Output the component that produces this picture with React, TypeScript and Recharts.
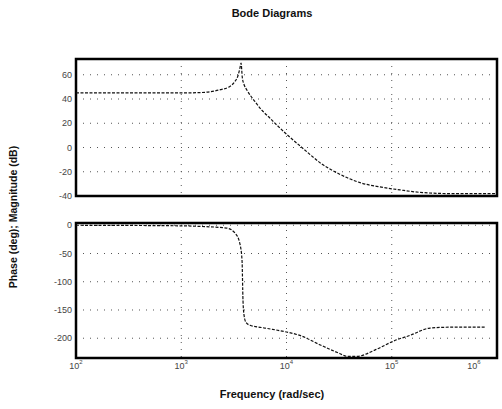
import React from 'react';
import { LineChart, Line, XAxis, YAxis, CartesianGrid, ReferenceArea } from 'recharts';

const freqTicks = [100, 1000, 10000, 100000, 1000000];
const magTicks = [-40, -20, 0, 20, 40, 60];
const phaseTicks = [-200, -150, -100, -50, 0];

const magFreq = [100, 1000, 1500, 1900, 2300, 2900, 3200, 3450, 3600, 3700, 3800, 3950, 4200, 5000, 5800, 7000, 8100, 10000, 14000, 22000, 32000, 50000, 77000, 120000, 185000, 360000, 1000000];
const magValues = [45, 45, 45.3, 46, 47.5, 50.4, 54, 59, 65, 69.6, 58, 52, 47.5, 38, 31, 24, 18.5, 11, 0, -14, -22, -29, -32.5, -35, -37, -38, -38];

const phaseFreq = [100, 1000, 1500, 2700, 3250, 3600, 3780, 3860, 3950, 4120, 4500, 6250, 10000, 13400, 21000, 32000, 37600, 46800, 69000, 107000, 149000, 231000, 357000, 770000];
const phaseValues = [0, -1, -2, -5, -14, -32, -62, -133, -159, -172, -177, -182, -189, -195, -212, -227, -232, -232, -221, -204, -195, -182, -180.5, -180.5];

const magData = magFreq.map((f, i) => ({ f, v: magValues[i] }));
const phaseData = phaseFreq.map((f, i) => ({ f, v: phaseValues[i] }));

const FONT = '"Liberation Sans", Arial, Helvetica, sans-serif';

const XTick = (props: any) => {
  const { x, y, payload } = props;
  const exp = Math.round(Math.log10(payload.value));
  return (
    <text x={x} y={y} textAnchor="middle" fontSize={9} fill="#444" fontFamily={FONT}>
      <tspan dy={7}>10</tspan>
      <tspan dy={-5} fontSize={6}>{exp}</tspan>
    </text>
  );
};

const NoTick = () => <g />;

export default function App() {
  return (
    <div style={{ position: 'absolute', left: 0, top: 0, width: 502, height: 409, background: '#fff', fontFamily: FONT }}>
      <div style={{ position: 'absolute', left: 0, width: 502, top: 7, textAlign: 'center', paddingLeft: 42, boxSizing: 'border-box', fontSize: 11, fontWeight: 'bold', color: '#111' }}>
        Bode Diagrams
      </div>
      <div style={{ position: 'absolute', left: 0, top: 0 }}>
        <LineChart width={502} height={210} data={magData} margin={{ top: 59, right: 5, bottom: 14, left: 46 }}>
          <CartesianGrid stroke="#555" strokeDasharray="1 6" />
          <XAxis dataKey="f" type="number" scale="log" domain={[100, 1000000]} ticks={freqTicks} allowDataOverflow height={0} tick={<NoTick />} axisLine={false} tickLine={false} />
          <YAxis type="number" domain={[-40, 73]} ticks={magTicks} width={30} allowDataOverflow axisLine={false} tickLine={false} tickSize={4} tickMargin={0} tick={{ fontSize: 9, fill: '#444', fontFamily: FONT }} />
          <ReferenceArea x1={100} x2={1000000} y1={-40} y2={73} fill="none" fillOpacity={0} stroke="#000" strokeOpacity={1} strokeWidth={2.5} ifOverflow="visible" />
          <Line dataKey="v" type="monotone" stroke="#111" strokeWidth={1.2} strokeDasharray="3 1.5" dot={false} isAnimationActive={false} />
        </LineChart>
      </div>
      <div style={{ position: 'absolute', left: 0, top: 200 }}>
        <LineChart width={502} height={209} data={phaseData} margin={{ top: 23, right: 5, bottom: 21, left: 46 }}>
          <CartesianGrid stroke="#555" strokeDasharray="1 6" />
          <XAxis dataKey="f" type="number" scale="log" domain={[100, 1000000]} ticks={freqTicks} allowDataOverflow height={30} axisLine={false} tickLine={false} tickSize={4} tickMargin={0} tick={<XTick />} />
          <YAxis type="number" domain={[-235, 4]} ticks={phaseTicks} width={30} allowDataOverflow axisLine={false} tickLine={false} tickSize={4} tickMargin={0} tick={{ fontSize: 9, fill: '#444', fontFamily: FONT }} />
          <ReferenceArea x1={100} x2={1000000} y1={-235} y2={4} fill="none" fillOpacity={0} stroke="#000" strokeOpacity={1} strokeWidth={2.5} ifOverflow="visible" />
          <Line dataKey="v" type="monotone" stroke="#111" strokeWidth={1.2} strokeDasharray="3 1.5" dot={false} isAnimationActive={false} />
        </LineChart>
      </div>
      <div style={{ position: 'absolute', left: 0, width: 502, top: 388, textAlign: 'center', paddingLeft: 42, boxSizing: 'border-box', fontSize: 11, fontWeight: 'bold', color: '#111' }}>
        Frequency (rad/sec)
      </div>
      <div style={{ position: 'absolute', left: 13, top: 217, width: 0, height: 0 }}>
        <div style={{ position: 'absolute', left: 0, top: 0, transform: 'translate(-50%, -50%) rotate(-90deg)', whiteSpace: 'nowrap', fontSize: 10.5, fontWeight: 'bold', color: '#111' }}>
          Phase (deg); Magnitude (dB)
        </div>
      </div>
    </div>
  );
}
